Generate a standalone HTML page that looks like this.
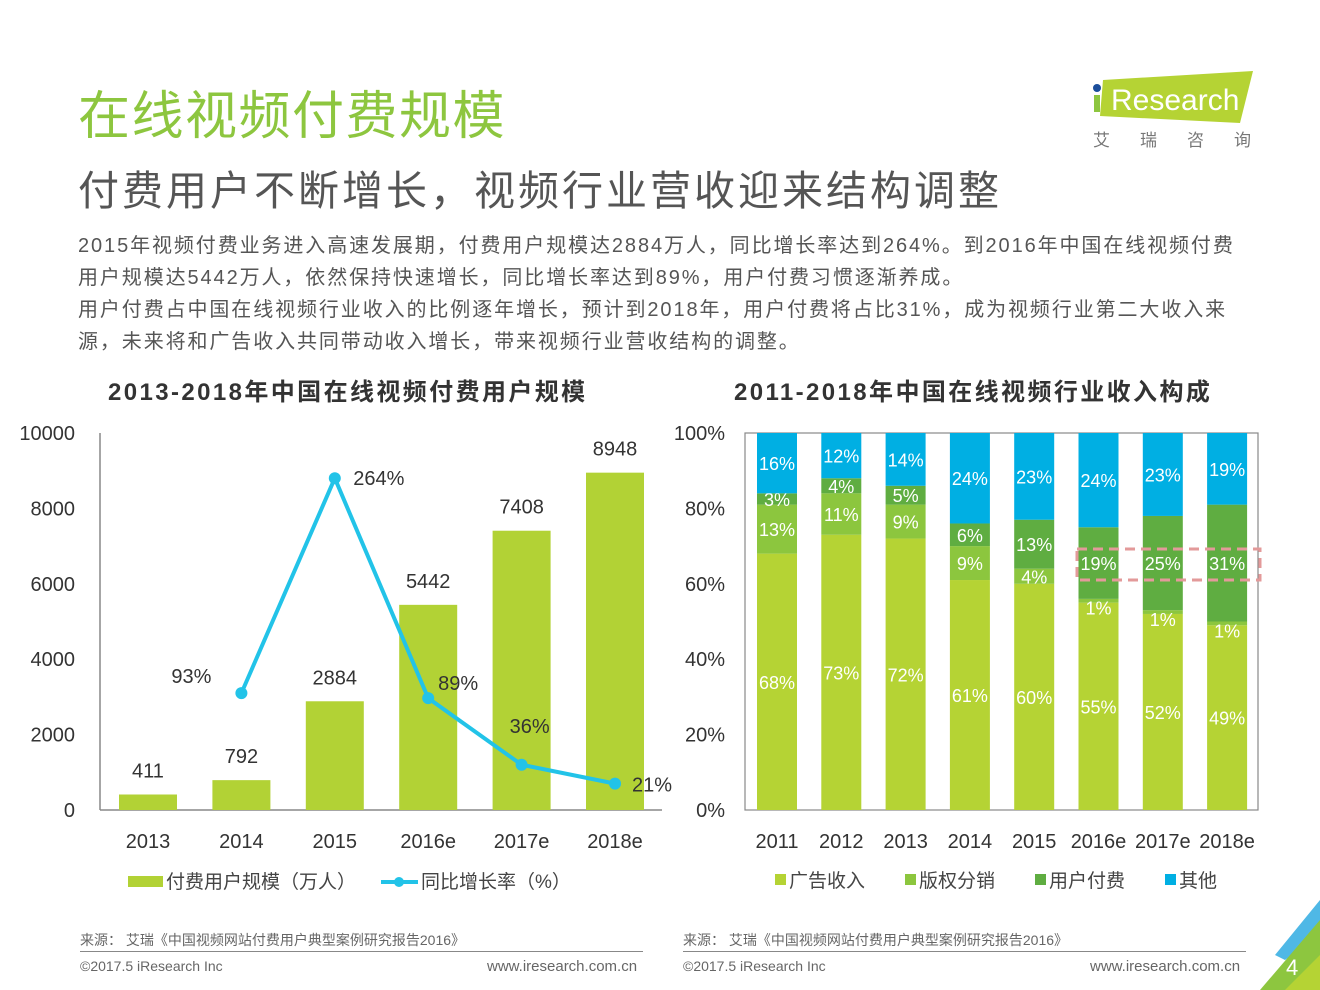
<!DOCTYPE html>
<html><head><meta charset="utf-8"><style>
body{margin:0;width:1320px;height:990px;background:#fff;overflow:hidden;position:relative;font-family:"Liberation Sans","Noto Sans CJK SC",sans-serif;}
.abs{position:absolute;white-space:nowrap;}
</style></head><body>
<div class="abs" style="left:78px;top:74px;font-size:52px;letter-spacing:1.5px;color:#8dc63f;">在线视频付费规模</div>
<div class="abs" style="left:78px;top:157px;font-size:41px;letter-spacing:3px;color:#555;">付费用户不断增长，视频行业营收迎来结构调整</div>
<div class="abs" style="left:78px;top:230px;font-size:20px;letter-spacing:1.9px;line-height:32px;color:#555;">2015年视频付费业务进入高速发展期，付费用户规模达2884万人，同比增长率达到264%。到2016年中国在线视频付费<br>用户规模达5442万人，依然保持快速增长，同比增长率达到89%，用户付费习惯逐渐养成。<br>用户付费占中国在线视频行业收入的比例逐年增长，预计到2018年，用户付费将占比31%，成为视频行业第二大收入来<br>源，未来将和广告收入共同带动收入增长，带来视频行业营收结构的调整。</div>
<svg class="abs" style="left:1085px;top:68px" width="180" height="90">
<polygon points="18,12 168,3 155,55 15,48" fill="#b5d334"/>
<circle cx="12" cy="20" r="4" fill="#1b4e9b"/><rect x="9" y="27" width="6" height="17" fill="#8dc63f"/>
<text x="26" y="42" font-size="30" fill="#fff" font-family="Liberation Sans">Research</text>
<text x="8" y="78" font-size="17" fill="#777" letter-spacing="30">艾瑞咨询</text>
</svg>
<div class="abs" style="left:108px;top:372px;font-size:24px;letter-spacing:2.4px;font-weight:bold;color:#333;">2013-2018年中国在线视频付费用户规模</div>
<div class="abs" style="left:734px;top:372px;font-size:24px;letter-spacing:2.4px;font-weight:bold;color:#333;">2011-2018年中国在线视频行业收入构成</div>
<svg id="c1" class="abs" style="left:0;top:0" width="1320" height="990"></svg>
<div class="abs" style="left:80px;top:930px;font-size:14px;color:#666;">来源： 艾瑞《中国视频网站付费用户典型案例研究报告2016》</div>
<div class="abs" style="left:683px;top:930px;font-size:14px;color:#666;">来源： 艾瑞《中国视频网站付费用户典型案例研究报告2016》</div>
<div class="abs" style="left:80px;top:951px;width:563px;border-top:1px solid #888"></div>
<div class="abs" style="left:683px;top:951px;width:563px;border-top:1px solid #888"></div>
<div class="abs" style="left:80px;top:958px;font-size:14px;color:#666;">©2017.5 iResearch Inc</div>
<div class="abs" style="left:487px;top:958px;font-size:15px;color:#666;">www.iresearch.com.cn</div>
<div class="abs" style="left:683px;top:958px;font-size:14px;color:#666;">©2017.5 iResearch Inc</div>
<div class="abs" style="left:1090px;top:958px;font-size:15px;color:#666;">www.iresearch.com.cn</div>
<svg class="abs" style="left:1240px;top:895px" width="80" height="95">
<polygon points="80,5 80,40 45,65 35,60" fill="#4fb8e6"/>
<polygon points="80,25 80,95 20,95" fill="#8dc63f"/>
<polygon points="80,60 80,95 45,95" fill="#b5d334"/>
<text x="46" y="80" font-size="22" fill="#fff">4</text>
</svg>
<script>
const years1=['2013','2014','2015','2016e','2017e','2018e'];
const users=[411,792,2884,5442,7408,8948];
const growthYears=[1,2,3,4,5];
const growth=[93,264,89,36,21];
const yTicks1=[0,2000,4000,6000,8000,10000];
const years2=['2011','2012','2013','2014','2015','2016e','2017e','2018e'];
const ad=[68,73,72,61,60,55,52,49];
const copyright=[13,11,9,9,4,1,1,1];
const paid=[3,4,5,6,13,19,25,31];
const other=[16,12,14,24,23,24,23,19];
const yTicks2=[0,20,40,60,80,100];
const NS='http://www.w3.org/2000/svg';
const svg=document.getElementById('c1');
function mk(tag,attrs,parent){const e=document.createElementNS(NS,tag);for(const k in attrs)e.setAttribute(k,attrs[k]);(parent||svg).appendChild(e);return e;}
function txt(x,y,s,attrs){const e=mk('text',Object.assign({x:x,y:y,'font-size':20,fill:'#333','text-anchor':'middle','font-family':'Liberation Sans, Noto Sans CJK SC, sans-serif'},attrs||{}));e.textContent=s;return e;}
const y1=v=>810-v/10000*377, x1=i=>148+i*93.4, yg=v=>810-v/300*377;
let g=mk('g',{});
mk('line',{x1:100,y1:433,x2:100,y2:810,stroke:'#888','stroke-width':1.5},g);
mk('line',{x1:100,y1:810,x2:662,y2:810,stroke:'#888','stroke-width':1.5},g);
yTicks1.forEach(t=>{const e=txt(75,y1(t)+7,String(t),{'text-anchor':'end'});});
years1.forEach((y,i)=>{const e=txt(x1(i),848,y);});
users.forEach((v,i)=>{const r=mk('rect',{x:x1(i)-29,y:y1(v),width:58,height:810-y1(v),fill:'#b2d235'});

const t=txt(x1(i),y1(v)-17,String(v));});
const pts=growth.map((v,j)=>[x1(growthYears[j]),yg(v)]);
const pl=mk('polyline',{points:pts.map(p=>p.join(',')).join(' '),fill:'none',stroke:'#22c3e8','stroke-width':4});

const offs=[[-50,-10],[44,7],[30,-8],[8,-32],[37,8]];
pts.forEach((p,j)=>{const c=mk('circle',{cx:p[0],cy:p[1],r:6,fill:'#22c3e8'});
const t=txt(p[0]+offs[j][0],p[1]+offs[j][1],growth[j]+'%');});
let l=mk('rect',{x:128,y:876,width:35,height:11,fill:'#b2d235'});
txt(166,888,'付费用户规模（万人）',{'text-anchor':'start',fill:'#444','font-size':19});
l=mk('line',{x1:381,y1:882,x2:418,y2:882,stroke:'#22c3e8','stroke-width':4});
mk('circle',{cx:399,cy:882,r:5,fill:'#22c3e8'});
txt(421,888,'同比增长率（%）',{'text-anchor':'start',fill:'#444','font-size':19});
const y2=v=>810-v/100*377, x2=i=>777+i*64.3;
g=mk('g',{});
mk('rect',{x:745,y:433,width:513,height:377,fill:'none',stroke:'#888','stroke-width':1.2},g);
yTicks2.forEach(t=>{const e=txt(725,y2(t)+7,t+'%',{'text-anchor':'end'});});
years2.forEach((y,i)=>{const e=txt(x2(i),848,y);});
const series=[['ad',ad,'#b5d334'],['copyright',copyright,'#8cc63e'],['paid',paid,'#5fad41'],['other',other,'#00afe3']];
years2.forEach((y,i)=>{let cum=0;series.forEach(([nm,arr,col],s)=>{let v=arr[i];if(s===3)v=100-cum;const top=y2(cum+v),bot=y2(cum);
const r=mk('rect',{x:x2(i)-20,y:top,width:40,height:bot-top,fill:col});
let ly=(top+bot)/2+7;if(arr[i]<=1)ly=bot+12;
const t=txt(x2(i),ly,arr[i]+'%',{fill:'#fff','font-size':18});
cum+=v;});});
const hb=mk('rect',{x:1077,y:549,width:183,height:31,fill:'none',stroke:'#e39a9a','stroke-width':3,'stroke-dasharray':'10,6'});

[['广告收入','#b5d334',775],['版权分销','#8cc63e',905],['用户付费','#5fad41',1035],['其他','#00afe3',1165]].forEach(([n,c,x])=>{
const r=mk('rect',{x:x,y:874,width:11,height:11,fill:c});
txt(x+14,887,n,{'text-anchor':'start',fill:'#444','font-size':19});});
</script>
</body></html>
